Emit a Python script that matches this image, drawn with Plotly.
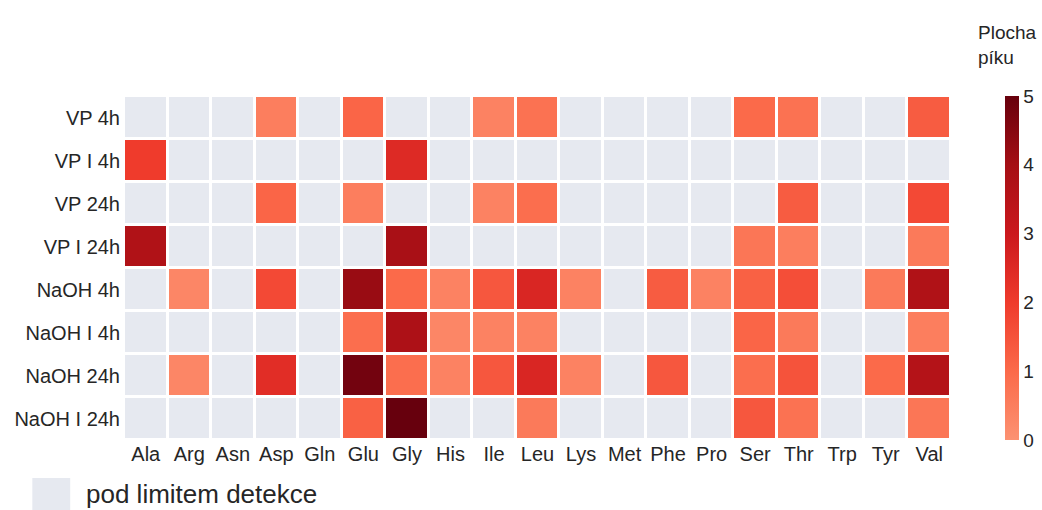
import plotly.graph_objects as go

# Amino acids (columns) and sample conditions (rows)
amino_acids = ["Ala", "Arg", "Asn", "Asp", "Gln", "Glu", "Gly", "His", "Ile", "Leu",
               "Lys", "Met", "Phe", "Pro", "Ser", "Thr", "Trp", "Tyr", "Val"]
samples = ["VP 4h", "VP I 4h", "VP 24h", "VP I 24h",
           "NaOH 4h", "NaOH I 4h", "NaOH 24h", "NaOH I 24h"]

# Peak areas; None = below the detection limit
N = None
vp_4h       = [N,   N,   N,   0.5, N,   1.1, N,   N,   0.4, 0.8, N,   N, N,   N,   1.0, 0.8, N, N,   1.3]
vp_i_4h     = [2.0, N,   N,   N,   N,   N,   2.5, N,   N,   N,   N,   N, N,   N,   N,   N,   N, N,   N]
vp_24h      = [N,   N,   N,   1.1, N,   0.5, N,   N,   0.4, 0.9, N,   N, N,   N,   N,   1.3, N, N,   1.7]
vp_i_24h    = [3.7, N,   N,   N,   N,   N,   3.9, N,   N,   N,   N,   N, N,   N,   0.7, 0.5, N, N,   0.6]
naoh_4h     = [N,   0.3, N,   1.7, N,   4.2, 1.0, 0.4, 1.4, 2.6, 0.4, N, 1.3, 0.4, 1.2, 1.6, N, 0.6, 3.7]
naoh_i_4h   = [N,   N,   N,   N,   N,   0.9, 3.8, 0.3, 0.4, 0.4, N,   N, N,   N,   1.1, 0.6, N, N,   0.5]
naoh_24h    = [N,   0.3, N,   2.4, N,   4.8, 0.9, 0.4, 1.4, 2.6, 0.4, N, 1.4, N,   0.9, 1.5, N, 1.0, 3.6]
naoh_i_24h  = [N,   N,   N,   N,   N,   1.2, 5.0, N,   N,   0.6, N,   N, N,   N,   1.4, 0.8, N, N,   0.7]

z = [vp_4h, vp_i_4h, vp_24h, vp_i_24h, naoh_4h, naoh_i_4h, naoh_24h, naoh_i_24h]
# grey layer for undetected cells
z_bg = [[1 if v is None else None for v in row] for row in z]

GREY = "#E6E9F0"
FONT = "Liberation Sans, Arial, sans-serif"
TXT = "#262626"

fig = go.Figure()
fig.add_trace(go.Heatmap(
    x=amino_acids, y=samples, z=z_bg,
    colorscale=[[0, GREY], [1, GREY]], showscale=False,
    xgap=3, ygap=3, hoverinfo="skip",
))
fig.add_trace(go.Heatmap(
    x=amino_acids, y=samples, z=z,
    zmin=0, zmax=5,
    colorscale=[[0.0, "#fc9272"], [0.2, "#fb6a4a"], [0.4, "#ef3b2c"],
                [0.6, "#cb181d"], [0.8, "#a50f15"], [1.0, "#67000d"]],
    xgap=3, ygap=3,
    colorbar=dict(
        x=1.065, xanchor="left", xpad=0, ypad=0,
        y=0.5, yanchor="middle", len=1.0, lenmode="fraction",
        thickness=14, outlinewidth=0,
        tickvals=[0, 1, 2, 3, 4, 5], ticks="",
        tickfont=dict(family=FONT, size=19, color=TXT),
    ),
))

# colorbar heading
fig.add_annotation(
    text="Plocha<br>píku", xref="paper", yref="paper",
    x=(979 - 124) / 830, y=(440 - 20) / 344, xanchor="left", yanchor="top",
    align="left", showarrow=False,
    font=dict(family=FONT, size=19, color=TXT),
)

# legend entry for the grey cells
fig.add_shape(
    type="rect", xref="paper", yref="paper",
    x0=(32 - 124) / 830, x1=(70 - 124) / 830,
    y0=(440 - 516) / 344, y1=(440 - 478) / 344,
    fillcolor=GREY, line=dict(width=0), layer="below",
)
fig.add_annotation(
    text="pod limitem detekce", xref="paper", yref="paper",
    x=(84 - 124) / 830, y=(440 - 494) / 344, xanchor="left", yanchor="middle",
    showarrow=False, font=dict(family=FONT, size=26, color=TXT),
)

fig.update_xaxes(showgrid=False, zeroline=False, ticks="",
                 tickfont=dict(family=FONT, size=20, color=TXT))
fig.update_yaxes(showgrid=False, zeroline=False, ticks="", autorange="reversed",
                 ticklabelstandoff=3,
                 tickfont=dict(family=FONT, size=20, color=TXT))

fig.update_layout(
    width=1042, height=510,
    margin=dict(l=124, r=88, t=96, b=70),
    plot_bgcolor="white", paper_bgcolor="white",
    showlegend=False,
)

fig.write_html("out.html")
